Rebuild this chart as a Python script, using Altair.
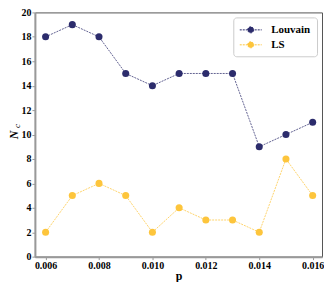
import altair as alt
import pandas as pd

p_vals = [0.006, 0.007, 0.008, 0.009, 0.010, 0.011, 0.012, 0.013, 0.014, 0.015, 0.016]
louvain = [18, 19, 18, 15, 14, 15, 15, 15, 9, 10, 11]
ls_vals = [2, 5, 6, 5, 2, 4, 3, 3, 2, 8, 5]
series_names = ["Louvain", "LS"]
series_colors = ["#2c2c6c", "#fdc53c"]
x_ticks = [0.006, 0.008, 0.010, 0.012, 0.014, 0.016]
y_ticks = list(range(0, 21, 2))

rows = []
for i, p in enumerate(p_vals):
    rows.append({"p": p, "Nc": louvain[i], "method": "Louvain"})
    rows.append({"p": p, "Nc": ls_vals[i], "method": "LS"})
df = pd.DataFrame(rows)

FONT = "Liberation Serif, Times New Roman, serif"
# legend glyph: dashed line segment with a dot in its middle
sym = "M-1,0L2.67,0M1.33,0A0.5,0.5,0,1,1,0.33,0A0.5,0.5,0,1,1,1.33,0Z"

color = alt.Color(
    "method:N",
    scale=alt.Scale(domain=series_names, range=series_colors),
    sort=series_names,
    legend=alt.Legend(
        title=None, orient="top-right", offset=5,
        symbolType=sym, symbolSize=144, symbolStrokeWidth=1, symbolDash=[2, 1],
        symbolOpacity=1,
        labelFont=FONT, labelFontWeight="bold", labelFontSize=11, labelColor="black",
        fillColor="white", strokeColor="#cccccc", cornerRadius=3, padding=6,
        rowPadding=3, labelOffset=19,
    ),
)

x = alt.X("p:Q", scale=alt.Scale(domain=[0.0056, 0.01635], nice=False, zero=False),
          axis=alt.Axis(values=x_ticks, format=".3f", title="p", grid=False))
y = alt.Y("Nc:Q", scale=alt.Scale(domain=[0, 20], nice=False),
          axis=alt.Axis(values=y_ticks, title="N", titleFontStyle="italic", grid=False))

base = alt.Chart(df)
lines = base.mark_line(strokeDash=[2, 1], strokeWidth=1, opacity=0.75).encode(
    x=x, y=y, color=color, detail="method:N")
points = base.mark_point(filled=True, size=50, opacity=1, shape="circle").encode(
    x=x, y=y, color=alt.Color("method:N", scale=alt.Scale(domain=series_names, range=series_colors), legend=None))
sub = alt.Chart(pd.DataFrame({"t": ["c"]})).mark_text(
    text="c", font=FONT, fontStyle="italic", fontSize=9, angle=270, color="black"
).encode(x=alt.value(-18), y=alt.value(114))

chart = alt.layer(lines, points, sub).properties(
    width=288, height=245, padding={"left": 0, "top": -1, "right": 0, "bottom": 0}
).configure_view(stroke="#555555", strokeWidth=1).configure_axis(
    labelFont=FONT, labelFontWeight="bold", labelFontSize=10, labelColor="black",
    titleFont=FONT, titleFontWeight="bold", titleFontSize=12, titleColor="black",
    domainColor="#999999", domainWidth=2, tickColor="#999999", tickSize=3,
    labelPadding=1,
).configure_axisY(titlePadding=0).configure_axisX(titlePadding=0)

chart.save("out.html", embed_options={"renderer": "svg", "actions": False})
